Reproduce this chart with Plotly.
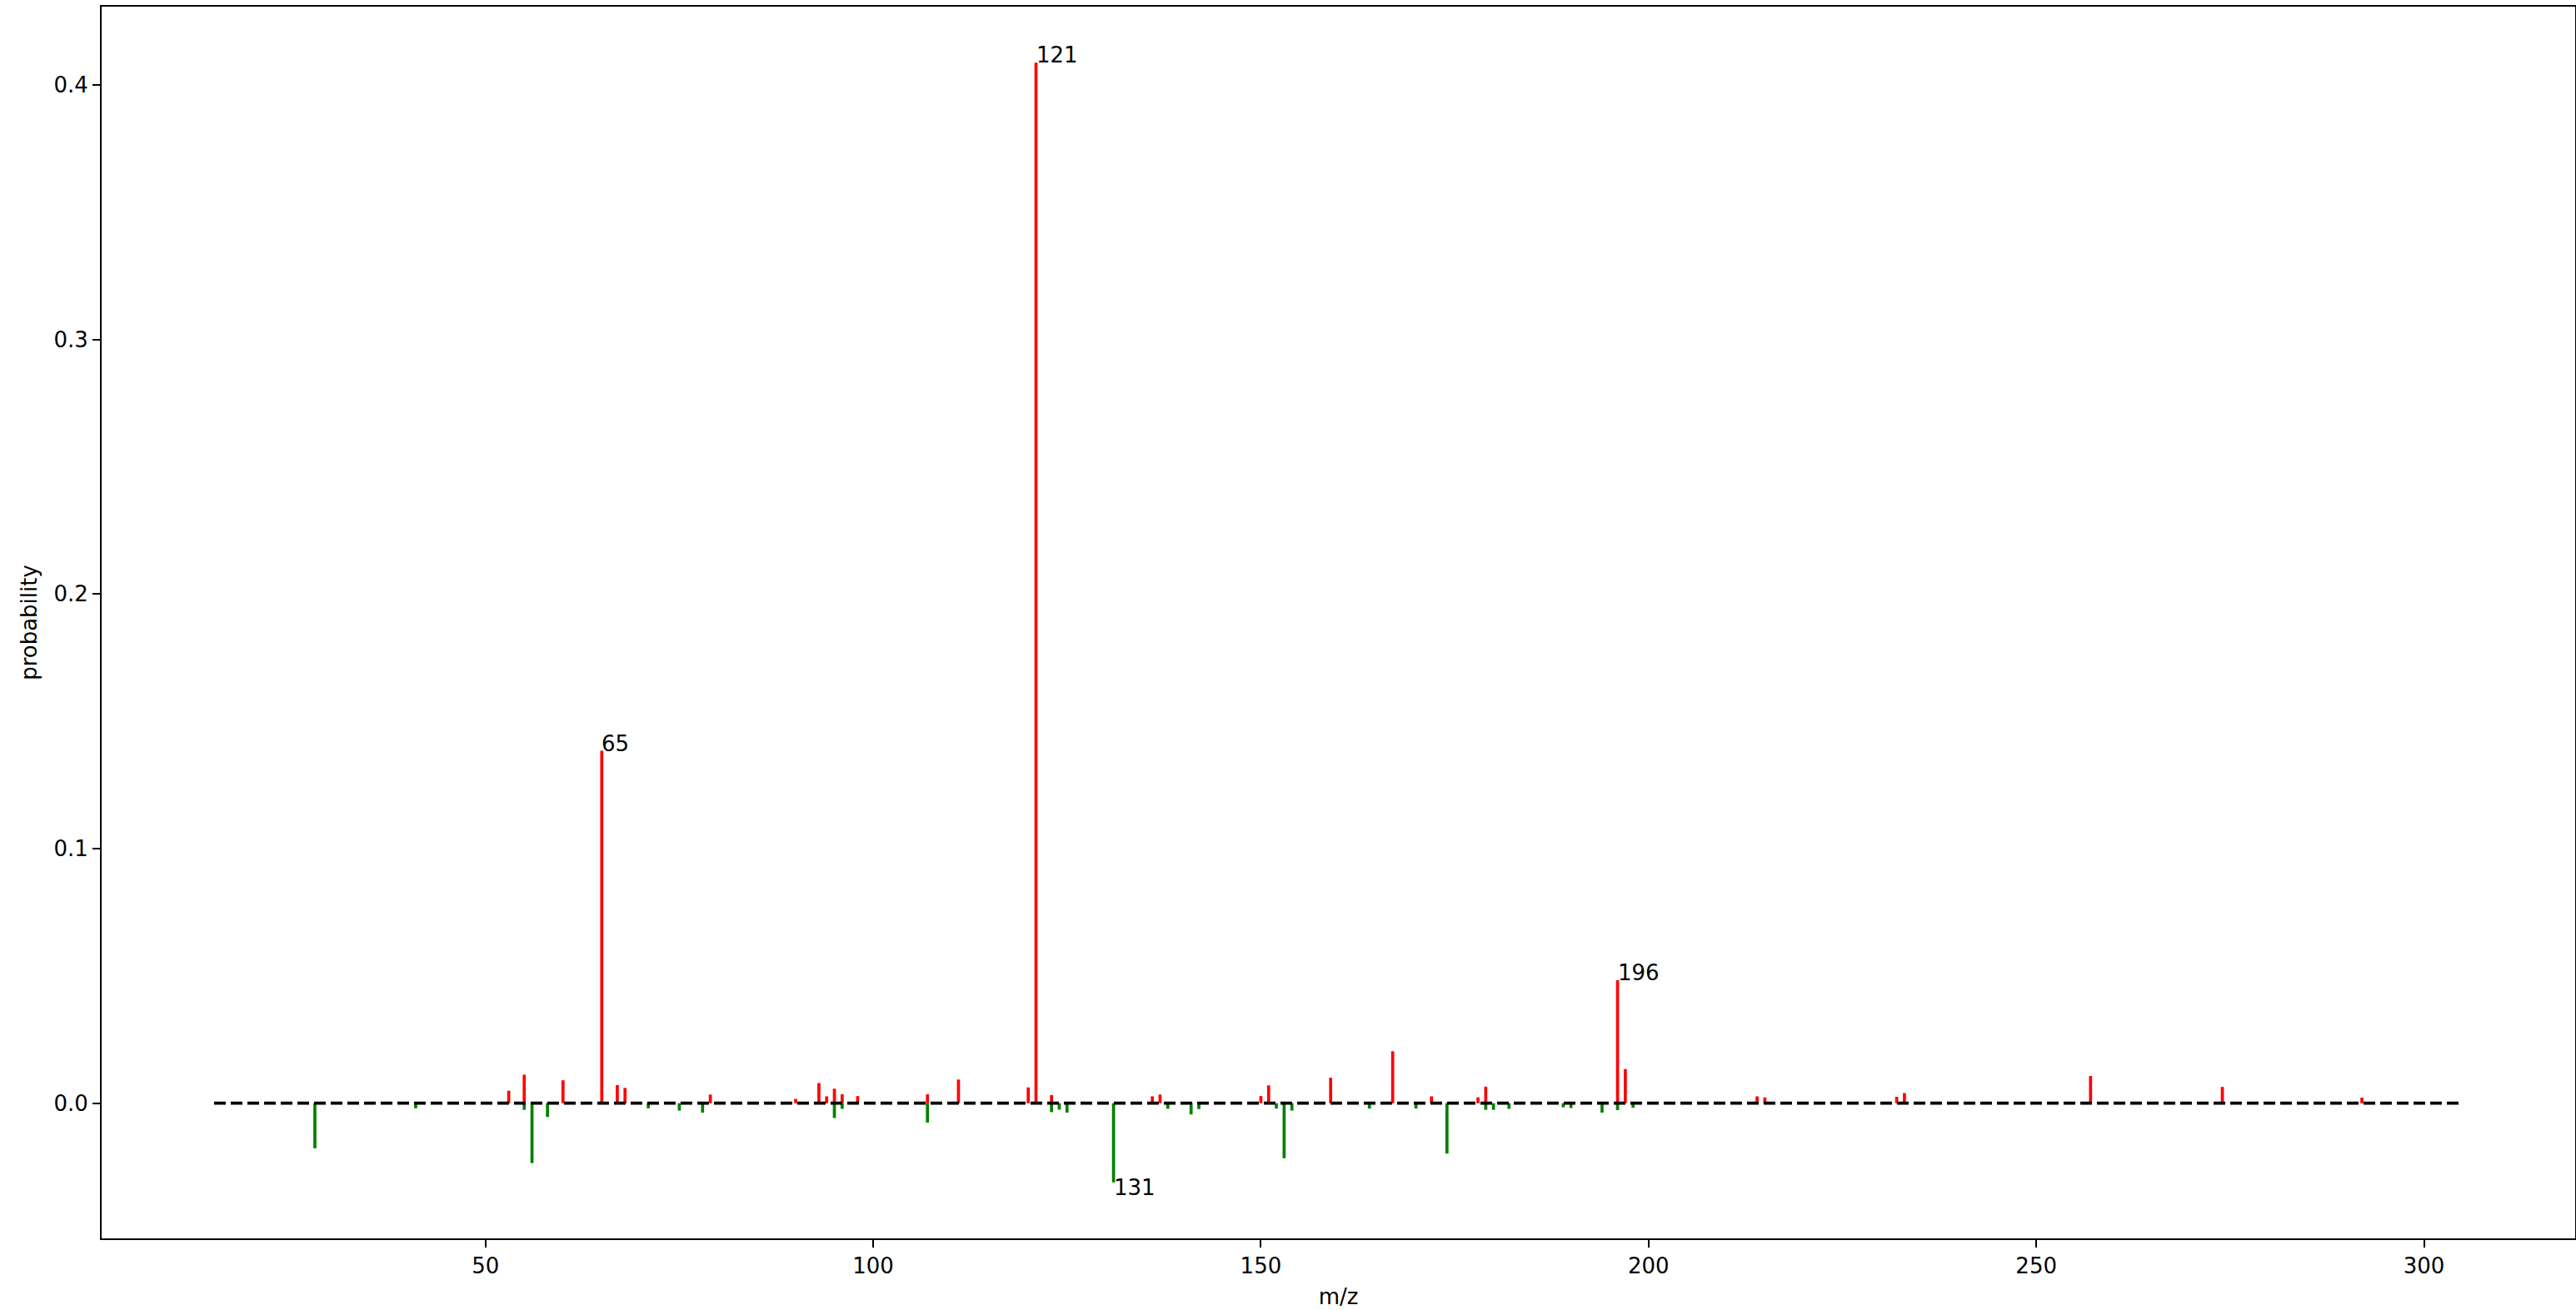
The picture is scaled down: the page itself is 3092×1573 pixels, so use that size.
import plotly.graph_objects as go

# Reference spectrum (red, plotted upward)
red_mz = [53, 55, 60, 65, 67, 68, 79, 90, 93, 94, 95, 96, 98, 107, 111, 120, 121, 123,
          136, 137, 150, 151, 159, 167, 172, 178, 179, 196, 197, 214, 215, 232, 233,
          257, 274, 292]
red_prob = [0.0049, 0.0112, 0.0090, 0.1384, 0.0071, 0.0060, 0.0034, 0.0017, 0.0079,
            0.0027, 0.0057, 0.0035, 0.0028, 0.0035, 0.0093, 0.0062, 0.4087, 0.0032,
            0.0027, 0.0034, 0.0028, 0.0070, 0.0100, 0.0204, 0.0027, 0.0023, 0.0065,
            0.0483, 0.0134, 0.0027, 0.0023, 0.0025, 0.0040, 0.0107, 0.0064, 0.0022]

# Predicted spectrum (green, plotted downward)
green_mz = [28, 41, 55, 56, 58, 71, 75, 78, 95, 96, 107, 123, 124, 125, 131, 138, 141,
            142, 152, 153, 154, 164, 170, 174, 179, 180, 182, 189, 190, 194, 196, 198]
green_prob = [0.0177, 0.0020, 0.0026, 0.0235, 0.0054, 0.0020, 0.0029, 0.0037, 0.0058,
              0.0022, 0.0076, 0.0035, 0.0025, 0.0037, 0.0311, 0.0022, 0.0044, 0.0023,
              0.0021, 0.0216, 0.0029, 0.0021, 0.0021, 0.0198, 0.0026, 0.0026, 0.0022,
              0.0016, 0.0019, 0.0037, 0.0027, 0.0018]

baseline_mz = [15, 305]
red_labels = [121, 65, 196]
green_labels = [131]

FONT = "DejaVu Sans"
FS = 26


def stems(xs, ys):
    sx, sy = [], []
    for x, y in zip(xs, ys):
        sx += [x, x, None]
        sy += [0, y, None]
    return sx, sy


fig = go.Figure()
rx, ry = stems(red_mz, red_prob)
fig.add_trace(go.Scatter(x=rx, y=ry, mode="lines", line=dict(color="#ff0000", width=3.7),
                         hoverinfo="skip", showlegend=False))
gx, gy = stems(green_mz, [-p for p in green_prob])
fig.add_trace(go.Scatter(x=gx, y=gy, mode="lines", line=dict(color="#008000", width=3.7),
                         hoverinfo="skip", showlegend=False))
fig.add_trace(go.Scatter(x=baseline_mz, y=[0, 0], mode="lines",
                         line=dict(color="black", width=3.7, dash="14px,6px"),
                         hoverinfo="skip", showlegend=False))

for m in red_labels:
    v = red_prob[red_mz.index(m)]
    fig.add_annotation(x=m, y=v, text=str(m), showarrow=False, xanchor="left",
                       yanchor="bottom", yshift=-8, xshift=-2,
                       font=dict(family=FONT, size=FS, color="black"))
for m in green_labels:
    v = -green_prob[green_mz.index(m)]
    fig.add_annotation(x=m, y=v, text=str(m), showarrow=False, xanchor="left",
                       yanchor="top", yshift=11, xshift=-2,
                       font=dict(family=FONT, size=FS, color="black"))

ymax = max(red_prob)
ymin = -max(green_prob)
pad = 0.05 * (ymax - ymin)
xpad = 0.05 * (baseline_mz[1] - baseline_mz[0])

axis_common = dict(showgrid=False, zeroline=False, showline=True, linecolor="black",
                   linewidth=2, mirror=True, ticks="outside", ticklen=9, tickwidth=2,
                   tickcolor="black", tickfont=dict(family=FONT, size=FS, color="black"))

fig.update_layout(
    width=3092, height=1573,
    margin=dict(l=122, r=1, t=8, b=86, autoexpand=False),
    plot_bgcolor="white", paper_bgcolor="white",
    font=dict(family=FONT, size=FS, color="black"),
    xaxis=dict(range=[baseline_mz[0] - xpad, baseline_mz[1] + xpad],
               tickvals=[50, 100, 150, 200, 250, 300],
               title=dict(text="m/z", font=dict(family=FONT, size=FS), standoff=14),
               **axis_common),
    yaxis=dict(range=[ymin - pad, ymax + pad], tickvals=[0.0, 0.1, 0.2, 0.3, 0.4],
               tickformat=".1f",
               title=dict(text="probability", font=dict(family=FONT, size=FS), standoff=12),
               **axis_common),
)

fig.write_html("out.html", config={"displayModeBar": False},
               post_script="document.body.style.margin='0px';"
                           "document.documentElement.style.overflow='hidden';")
